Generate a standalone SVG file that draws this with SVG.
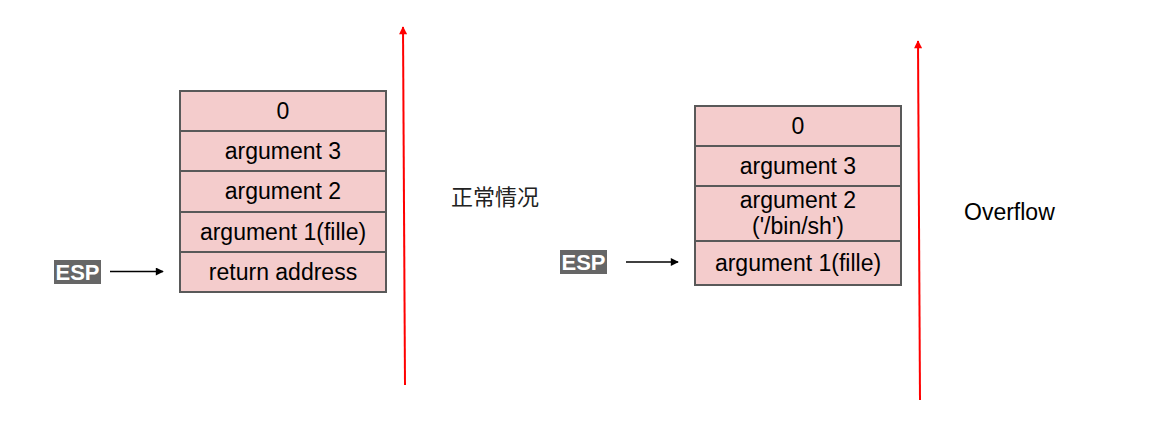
<svg xmlns="http://www.w3.org/2000/svg" width="1151" height="440" viewBox="0 0 1151 440">
<defs>
<style>
.cell{fill:#f4cccc;stroke:#595959;stroke-width:2}
.t{font-family:"Liberation Sans",Arial,sans-serif;font-size:23px;fill:#000;text-anchor:middle}
.esp{fill:#666666}
.espt{font-family:"Liberation Sans",Arial,sans-serif;font-size:22px;font-weight:bold;fill:#fff;text-anchor:middle}
.blk{stroke:#000;stroke-width:1.5;fill:none}
.red{stroke:#ff0000;stroke-width:2;fill:none}
</style>
<marker id="ab" viewBox="0 0 10 10" refX="9" refY="5" markerWidth="9" markerHeight="8" markerUnits="userSpaceOnUse" orient="auto"><path d="M0,0 L10,5 L0,10 z" fill="#000"/></marker>
<marker id="ar" viewBox="0 0 10 10" refX="9" refY="5" markerWidth="9" markerHeight="8" markerUnits="userSpaceOnUse" orient="auto"><path d="M0,0 L10,5 L0,10 z" fill="#ff0000"/></marker>
</defs>
<rect width="1151" height="440" fill="#fff"/>
<g id="stack-normal">
<rect class="cell" x="180" y="91" width="206" height="40"/>
<text class="t" x="283" y="119">0</text>
<rect class="cell" x="180" y="131" width="206" height="40"/>
<text class="t" x="283" y="159">argument 3</text>
<rect class="cell" x="180" y="171" width="206" height="41"/>
<text class="t" x="283" y="199">argument 2</text>
<rect class="cell" x="180" y="212" width="206" height="40"/>
<text class="t" x="283" y="240">argument 1(fille)</text>
<rect class="cell" x="180" y="252" width="206" height="40"/>
<text class="t" x="283" y="280">return address</text>
</g>
<g id="stack-overflow">
<rect class="cell" x="695" y="106" width="206" height="40"/>
<text class="t" x="798" y="134">0</text>
<rect class="cell" x="695" y="146" width="206" height="40"/>
<text class="t" x="798" y="174">argument 3</text>
<rect class="cell" x="695" y="186" width="206" height="55"/>
<text class="t" x="798" y="208">argument 2</text>
<text class="t" x="798" y="234">('/bin/sh')</text>
<rect class="cell" x="695" y="241" width="206" height="44"/>
<text class="t" x="798" y="271">argument 1(fille)</text>
</g>
<g id="esp-left">
<rect class="esp" x="54" y="260" width="47" height="24"/>
<text class="espt" x="77.5" y="280">ESP</text>
</g>
<g id="esp-right">
<rect class="esp" x="560" y="250" width="47" height="24"/>
<text class="espt" x="583.5" y="270">ESP</text>
</g>
<g id="label-normal">
<text x="451" y="205" font-family="'Liberation Serif','Noto Sans CJK SC',serif" font-size="22" fill="#222">正常情况</text>
</g>
<g id="label-overflow">
<text x="964" y="220" font-family="'Liberation Sans',Arial,sans-serif" font-size="23" fill="#000">Overflow</text>
</g>
<g id="connectors">
<line class="blk" x1="110" y1="271.5" x2="163" y2="271.5" marker-end="url(#ab)"/>
<line class="blk" x1="626" y1="262" x2="678" y2="262" marker-end="url(#ab)"/>
<line class="red" x1="405" y1="385" x2="403" y2="27" marker-end="url(#ar)"/>
<line class="red" x1="920" y1="400" x2="918" y2="41" marker-end="url(#ar)"/>
</g>
</svg>
